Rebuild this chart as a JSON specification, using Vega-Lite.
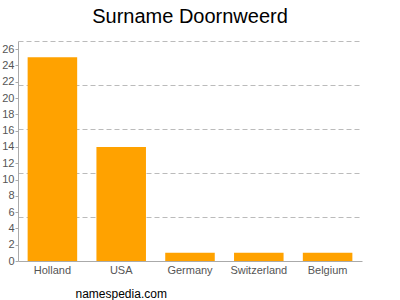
{
  "$schema": "https://vega.github.io/schema/vega-lite/v6.json",
  "width": 344,
  "height": 220,
  "autosize": {"type": "none"},
  "padding": {"left": 18, "top": 41, "right": 38, "bottom": 39},
  "background": "white",
  "title": {"text": "Surname Doornweerd", "fontSize": 20, "font": "Liberation Sans", "fontWeight": "normal", "color": "#000", "anchor": "middle", "offset": 14},
  "config": {"view": {"stroke": null}, "font": "Liberation Sans"},
  "data": {"values": [
    {"country": "Holland", "count": 25},
    {"country": "USA", "count": 14},
    {"country": "Germany", "count": 1},
    {"country": "Switzerland", "count": 1},
    {"country": "Belgium", "count": 1}
  ]},
  "layer": [
    {
      "mark": {"type": "bar", "color": "#ffa200"},
      "encoding": {
        "x": {"field": "country", "type": "nominal", "sort": null,
          "scale": {"paddingInner": 0.28, "paddingOuter": 0.14},
          "axis": {"title": "namespedia.com", "titleFontSize": 12, "titleFontWeight": "normal", "titleColor": "#000", "titleAlign": "left", "titleAnchor": "start", "titleX": 57, "titleY": 36, "titleBaseline": "alphabetic",
            "labelAngle": 0, "labelFontSize": 11, "labelColor": "#555", "labelPadding": 3, "ticks": false, "domainColor": "#aaa", "grid": false}},
        "y": {"field": "count", "type": "quantitative", "scale": {"domain": [0, 27], "nice": false},
          "axis": {"title": null, "values": [0,2,4,6,8,10,12,14,16,18,20,22,24,26], "grid": false, "tickSize": 3, "tickColor": "#aaa", "domainColor": "#aaa", "labelColor": "#555", "labelFontSize": 11, "labelPadding": 1}}
      }
    },
    {
      "mark": {"type": "bar", "opacity": 0},
      "encoding": {
        "x": {"field": "country", "type": "nominal", "sort": null},
        "y": {"field": "count", "type": "quantitative",
          "axis": {"title": null, "orient": "left", "values": [5.4, 10.8, 16.2, 21.6, 27], "grid": true, "gridDash": [5, 3], "gridColor": "#bbb", "labels": false, "ticks": false, "domain": false}}
      }
    }
  ],
  "resolve": {"axis": {"y": "independent"}}
}
